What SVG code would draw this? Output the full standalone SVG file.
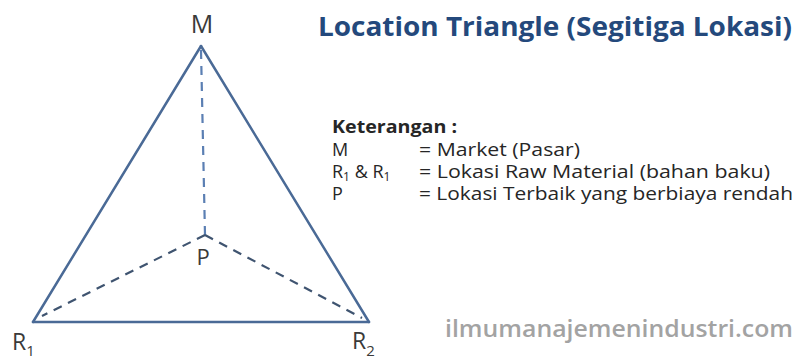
<svg xmlns="http://www.w3.org/2000/svg" width="799" height="362" viewBox="0 0 799 362">
<style>
.lbl{font-family:"Open Sans","Liberation Sans",sans-serif;fill:#3a3a3a}
.leg{font-family:"Open Sans","Liberation Sans",sans-serif;fill:#262626;font-size:18px}
.edge{stroke:#4a6a96;stroke-width:2.5;fill:none;stroke-linecap:round}
.dash{stroke:#3f5470;stroke-width:2.2;fill:none;stroke-dasharray:9 7}
.dashv{stroke:#5b7fb3;stroke-width:2.2;fill:none;stroke-dasharray:9 7}
</style>
<rect width="799" height="362" fill="#ffffff"/>
<g id="connectors">
<line class="edge" x1="201" y1="46" x2="33" y2="322"/>
<line class="edge" x1="201" y1="46" x2="369" y2="322"/>
<line class="edge" x1="33" y1="322" x2="369" y2="322"/>
<line class="dashv" x1="201" y1="50" x2="205" y2="235"/>
<line class="dash" x1="205" y1="235" x2="42" y2="316"/>
<line class="dash" x1="205" y1="235" x2="362" y2="318"/>
</g>
<g id="node-M"><text class="lbl" x="202" y="33" font-size="25" text-anchor="middle">M</text></g>
<g id="node-P"><text class="lbl" x="203" y="265" font-size="22" text-anchor="middle">P</text></g>
<g id="node-R1"><text class="lbl" x="12" y="350" font-size="23">R<tspan font-size="15" dy="6">1</tspan></text></g>
<g id="node-R2"><text class="lbl" x="352" y="349" font-size="23">R<tspan font-size="15" dy="7">2</tspan></text></g>
<g id="title"><text x="318" y="36" font-family="'Open Sans','Liberation Sans',sans-serif" font-weight="bold" font-size="27" fill="#24497c" textLength="474" lengthAdjust="spacingAndGlyphs">Location Triangle (Segitiga Lokasi)</text></g>
<g id="legend">
<text class="leg" x="332" y="133" font-weight="bold" textLength="125" lengthAdjust="spacingAndGlyphs">Keterangan :</text>
<text class="leg" x="332" y="156">M</text>
<text class="leg" x="419" y="156" textLength="161" lengthAdjust="spacingAndGlyphs">= Market (Pasar)</text>
<text class="leg" x="332" y="178">R<tspan font-size="12" dy="3">1</tspan><tspan dy="-3"> &amp; R</tspan><tspan font-size="12" dy="3">1</tspan></text>
<text class="leg" x="419" y="178" textLength="351" lengthAdjust="spacingAndGlyphs">= Lokasi Raw Material (bahan baku)</text>
<text class="leg" x="332" y="200">P</text>
<text class="leg" x="419" y="200" textLength="374" lengthAdjust="spacingAndGlyphs">= Lokasi Terbaik yang berbiaya rendah</text>
</g>
<g id="watermark"><text x="445" y="337" font-family="'Open Sans','Liberation Sans',sans-serif" font-weight="600" font-size="23" fill="#a3a3a3" textLength="348" lengthAdjust="spacingAndGlyphs">ilmumanajemenindustri.com</text></g>
</svg>
